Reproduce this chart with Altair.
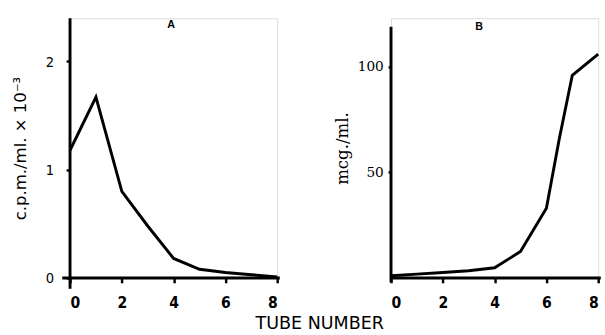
import altair as alt
import pandas as pd

# Panel A: radioactivity
a_tube = [0, 1, 2, 3, 4, 5, 6, 7, 8]
a_cpm = [1.18, 1.67, 0.80, 0.48, 0.18, 0.08, 0.05, 0.03, 0.01]

# Panel B: protein concentration
b_tube = [0, 1, 2, 3, 4, 5, 6, 6.5, 7, 8]
b_mcg = [1, 1.8, 2.6, 3.4, 4.8, 12.5, 33, 66, 96, 106]

x_ticks = [0, 1, 2, 3, 4, 5, 6, 7, 8]
a_yticks = [0, 1, 2]
b_yticks = [50, 100]

dfa = pd.DataFrame({"x": a_tube, "y": a_cpm})
dfb = pd.DataFrame({"x": b_tube, "y": b_mcg})

W, H = 213, 267
COND = "DejaVu Sans Condensed, Liberation Sans, sans-serif"
SANS = "DejaVu Sans, sans-serif"
SERIF = "DejaVu Serif, serif"

def xaxis():
    return alt.Axis(values=x_ticks, labelExpr="datum.value % 2 == 0 ? datum.label : ''",
                    domain=False, grid=False, tickSize=5, tickWidth=2.5, tickColor="black",
                    labelFont=COND, labelFontSize=16, labelFontWeight="bold", labelColor="black",
                    labelPadding=12, title=None, format="d")

# ---- Panel A
xa = alt.X("x:Q", scale=alt.Scale(domain=[0, 8], nice=False, zero=False), axis=xaxis())
ya = alt.Y("y:Q", scale=alt.Scale(domain=[0, 2.4], nice=False),
           axis=alt.Axis(values=a_yticks, format="d", domain=False, grid=False, tickSize=4,
                         tickWidth=2.5, tickColor="black", labelFont=COND, labelFontSize=15,
                         labelColor="black", labelPadding=13, title="c.p.m./ml. × 10⁻³",
                         titleFont=SANS, titleFontSize=17, titleFontWeight="normal",
                         titleColor="black", titlePadding=16))
lineA = alt.Chart(dfa).mark_line(color="black", strokeWidth=3).encode(x=xa, y=ya)
axA_x = alt.Chart(pd.DataFrame({"x": [-0.3], "x2": [8.1], "y": [0]})).mark_rule(
    color="black", strokeWidth=3).encode(x="x:Q", x2="x2:Q", y="y:Q")
axA_y = alt.Chart(pd.DataFrame({"x": [0], "y": [-0.1], "y2": [2.4]})).mark_rule(
    color="black", strokeWidth=3).encode(x="x:Q", y="y:Q", y2="y2:Q")
labA = alt.Chart(pd.DataFrame({"x": [3.9], "y": [2.34], "t": ["A"]})).mark_text(
    font="Liberation Sans", fontSize=11, fontWeight="bold", color="black").encode(
    x="x:Q", y="y:Q", text="t:N")
panelA = alt.layer(lineA, axA_x, axA_y, labA).properties(width=W, height=H)

# ---- Panel B
xb = alt.X("x:Q", scale=alt.Scale(domain=[0, 8], nice=False, zero=False), axis=xaxis())
yb = alt.Y("y:Q", scale=alt.Scale(domain=[0, 123], nice=False),
           axis=alt.Axis(values=b_yticks, format="d", domain=False, grid=False, tickSize=3,
                         tickWidth=2.5, tickColor="black", labelFont=SERIF, labelFontSize=14,
                         labelColor="black", labelPadding=5, title="mcg./ml.", titleFont=SERIF,
                         titleFontSize=17, titleFontWeight="normal", titleColor="black",
                         titlePadding=6))
lineB = alt.Chart(dfb).mark_line(color="black", strokeWidth=3).encode(x=xb, y=yb)
axB_x = alt.Chart(pd.DataFrame({"x": [0], "x2": [8.1], "y": [0]})).mark_rule(
    color="black", strokeWidth=3).encode(x="x:Q", x2="x2:Q", y="y:Q")
axB_y = alt.Chart(pd.DataFrame({"x": [0], "y": [-2], "y2": [119]})).mark_rule(
    color="black", strokeWidth=3).encode(x="x:Q", y="y:Q", y2="y2:Q")
labB = alt.Chart(pd.DataFrame({"x": [3.4], "y": [119], "t": ["B"]})).mark_text(
    font="Liberation Sans", fontSize=11, fontWeight="bold", color="black").encode(
    x="x:Q", y="y:Q", text="t:N")
panelB = alt.layer(lineB, axB_x, axB_y, labB).properties(width=W, height=H)

chart = alt.hconcat(panelA, panelB, spacing=50).properties(
    title=alt.TitleParams("TUBE NUMBER", orient="bottom", anchor="middle", font=SANS,
                          fontSize=18, fontWeight="normal", color="black", offset=5, dx=12),
    padding={"left": 11, "top": 12, "right": 0, "bottom": 0},
).configure_view(stroke=None).configure(background="white")

chart.save("out.html", embed_options={"renderer": "svg", "actions": False})
